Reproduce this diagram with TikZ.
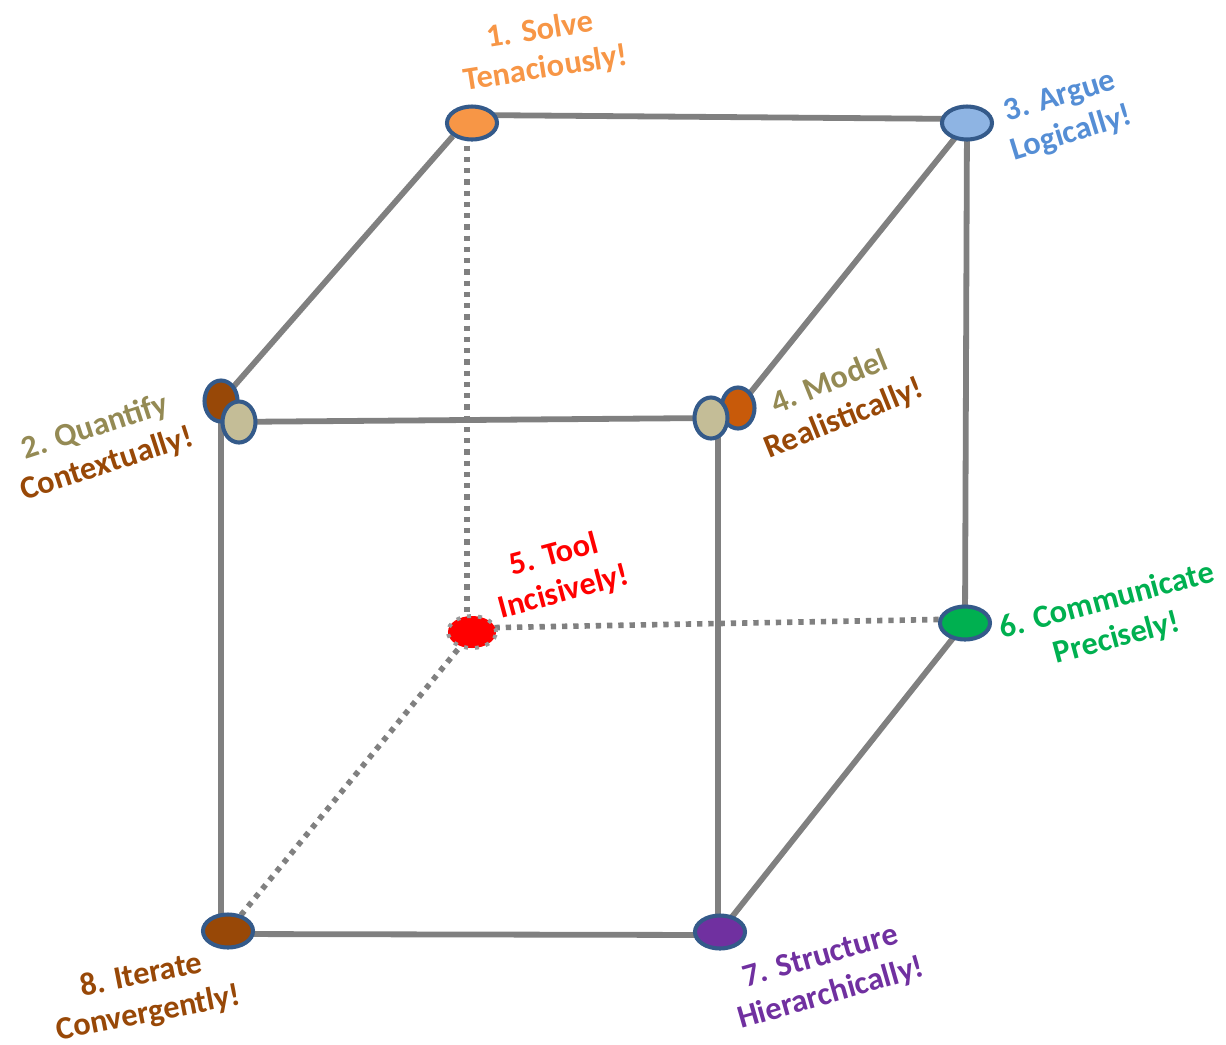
\documentclass[tikz,border=0pt]{standalone}
\usepackage{fontspec}
\setmainfont{Carlito}
\usetikzlibrary{shapes.geometric,backgrounds}
\definecolor{edgegray}{RGB}{128,128,128}
\definecolor{rimblue}{RGB}{52,90,138}
\definecolor{cOrange}{RGB}{247,150,70}
\definecolor{cBlueFill}{RGB}{142,180,227}
\definecolor{cBlueText}{RGB}{85,142,213}
\definecolor{cTan}{RGB}{196,189,151}
\definecolor{cOlive}{RGB}{148,138,84}
\definecolor{cBrown}{RGB}{152,72,7}
\definecolor{cRust}{RGB}{200,90,10}
\definecolor{cGreen}{RGB}{0,176,80}
\definecolor{cRed}{RGB}{255,0,0}
\definecolor{cPurple}{RGB}{112,48,160}
\begin{document}
\begin{tikzpicture}[x=0.01cm,y=-0.01cm,
  vtx/.style={ellipse, draw=rimblue, line width=1.15pt, inner sep=0pt,
              minimum width=0.5cm, minimum height=0.33cm},
  vvtx/.style={ellipse, draw=rimblue, line width=1.15pt, inner sep=0pt,
              minimum width=0.33cm, minimum height=0.41cm},
  edge/.style={draw=edgegray, line width=1.65pt},
  hidden/.style={draw=edgegray, line width=1.6pt, dash pattern=on 1.5pt off 1.7pt},
  lab/.style={font=\bfseries\fontsize{9.2}{11}\selectfont, align=center, inner sep=0pt}]
\useasboundingbox (0,0) rectangle (1226,1044);

% vertices
\node[vtx, fill=cOrange] (n1) at (472,123) {};
\node[vtx, fill=cBlueFill] (n3) at (967,123) {};
\node[vvtx, fill=cBrown] (n2b) at (221,401) {};
\node[vvtx, fill=cTan] (n2) at (239,422) {};
\node[vvtx, fill=cRust] (n4b) at (738,408) {};
\node[vvtx, fill=cTan] (n4) at (711,418) {};
\node[ellipse, fill=cRed, draw=edgegray!80, dotted, line width=1.1pt, inner sep=0pt,
      minimum width=0.48cm, minimum height=0.32cm] (n5) at (472,632) {};
\node[vtx, fill=cGreen] (n6) at (965,623) {};
\node[vtx, fill=cPurple] (n7) at (720,932) {};
\node[vtx, fill=cBrown] (n8) at (228,931) {};

\begin{scope}[on background layer]
  % solid edges
  \draw[edge] ([yshift=0.08cm]n1.center) -- ([yshift=0.04cm]n3.center);
  \draw[edge] (n1.south west) -- (n2b.center);
  \draw[edge] (n3.center) -- (n4b.center);
  \draw[edge] (n3.center) -- (n6.center);
  \draw[edge] (n2b.center |- n2.center) -- (n4.center);
  \draw[edge] (n2b.center) -- (n2b.center |- n8.center);
  \draw[edge] ([xshift=0.07cm]n4.center) -- ([xshift=0.07cm]n4.center |- n7.center);
  \draw[edge] ([yshift=-0.03cm]n8.center) -- ([yshift=-0.03cm]n7.center);
  \draw[edge] (n6.center) -- (n7.center);
  % hidden edges
  \draw[hidden] ([xshift=-0.05cm]n1.center) -- ([xshift=-0.05cm]n5.center);
  \draw[hidden] ([yshift=0.04cm]n5.center) -- ([yshift=0.04cm]n6.center);
  \draw[hidden] (n5.center) -- (n8.center);
\end{scope}

% labels
\node[lab, text=cOrange, rotate=9] (l1) at (543,50) {1. Solve\\Tenaciously!};
\node[lab, text=cBlueText, rotate=17] (l3) at (1066,116) {3. Argue\\Logically!};
\node[lab, rotate=18] (l2) at (101,446) {\textcolor{cOlive}{2. Quantify}\\\textcolor{cBrown}{Contextually!}};
\node[lab, rotate=22] (l4) at (837,401) {\textcolor{cOlive}{4. Model}\\\textcolor{cBrown}{Realistically!}};
\node[lab, text=cRed, rotate=15] (l5) at (559,574) {5. Tool\\Incisively!};
\node[lab, text=cGreen, rotate=15] (l6) at (1112,620) {6. Communicate\\Precisely!};
\node[lab, text=cPurple, rotate=16] (l7) at (826,976) {7. Structure\\Hierarchically!};
\node[lab, text=cBrown, rotate=11] (l8) at (145,995) {8. Iterate\\Convergently!};
\end{tikzpicture}
\end{document}
